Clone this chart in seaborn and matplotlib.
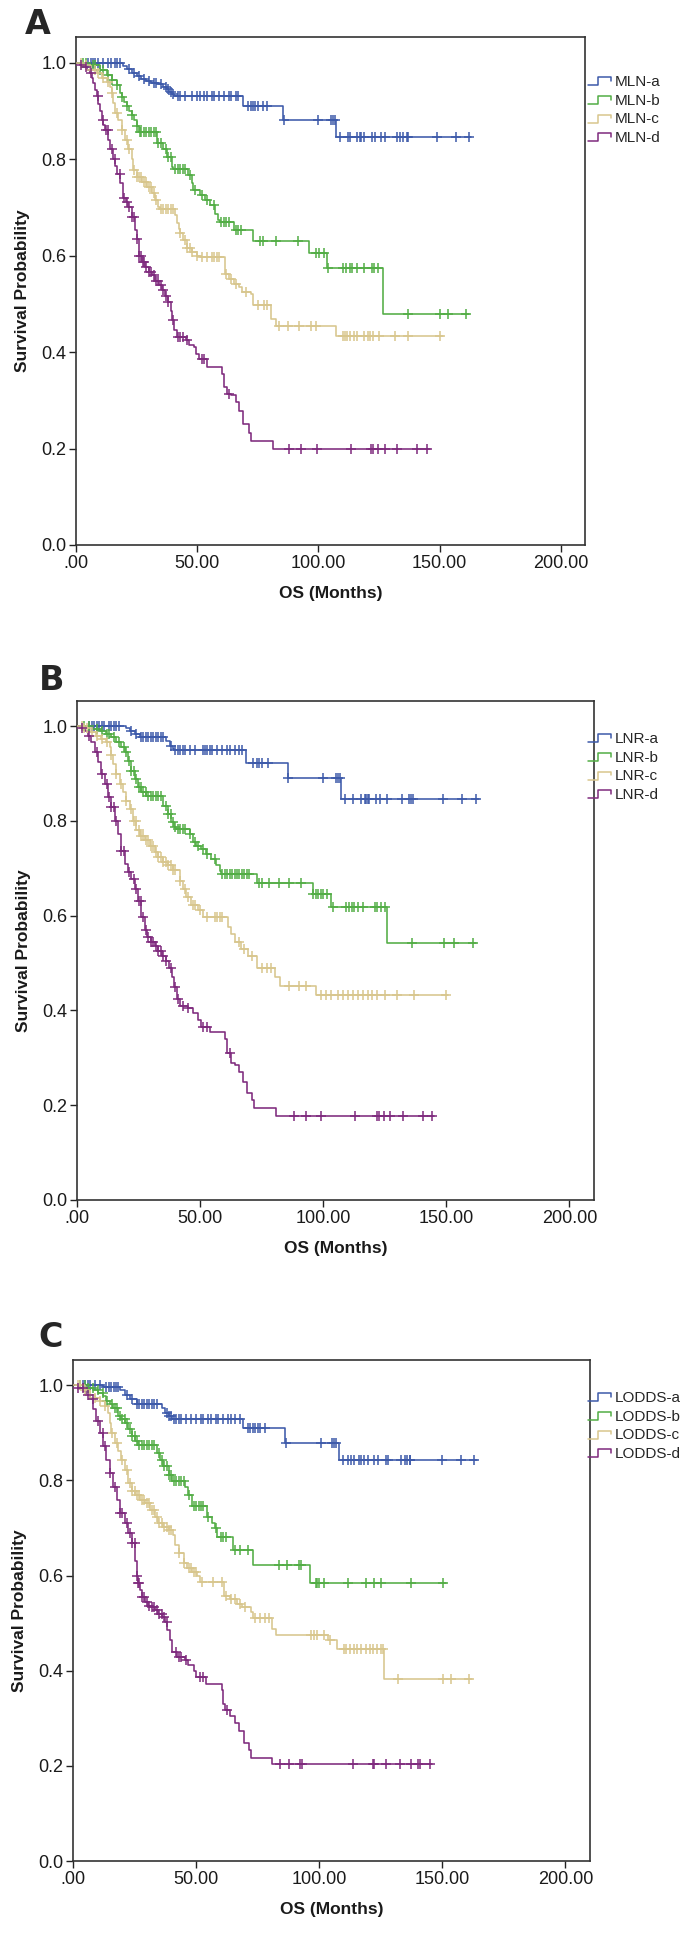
import numpy as np
import pandas as pd
import matplotlib
matplotlib.use("Agg")
import matplotlib.pyplot as plt
import seaborn as sns
from matplotlib.legend_handler import HandlerBase
from matplotlib.lines import Line2D

# ---------------- data (months, survival probability) ----------------
MLN_names = ["MLN-a", "MLN-b", "MLN-c", "MLN-d"]
LNR_names = ["LNR-a", "LNR-b", "LNR-c", "LNR-d"]
LODDS_names = ["LODDS-a", "LODDS-b", "LODDS-c", "LODDS-d"]

x_ticks = [0, 50, 100, 150, 200]
x_tick_labels = [".00", "50.00", "100.00", "150.00", "200.00"]
y_ticks = [0.0, 0.2, 0.4, 0.6, 0.8, 1.0]
y_tick_labels = ["0.0", "0.2", "0.4", "0.6", "0.8", "1.0"]

# --- Panel A: MLN ---
MLN_a_t = [19.5, 21, 23, 25, 27, 29, 31, 34, 36, 37.5, 38.5, 39.5, 40.5, 68.8, 85.6, 107.3]
MLN_a_s = [0.993, 0.986, 0.979, 0.972, 0.966, 0.962, 0.958, 0.955, 0.950, 0.945, 0.940, 0.935, 0.931, 0.910, 0.881, 0.845]
MLN_a_end = 163
MLN_a_cens = [5, 6, 7, 8, 9, 11, 13, 14.5, 16, 17, 18, 22, 24, 26, 28, 30, 32, 33, 35, 37, 38, 39, 40, 42, 43, 45, 48, 50, 51, 53, 54, 56, 57, 59, 61, 63, 64, 66, 67, 71, 72, 73, 74, 75, 77, 79, 86, 100, 105, 106, 107, 109, 112.4, 113, 116, 117, 117.7, 119, 122, 123.4, 126, 127.5, 132.4, 133.7, 135, 136.5, 137, 149, 156.7, 162.3]

MLN_b_t = [5.8, 9.9, 12.7, 14.7, 16.8, 18, 19, 20, 21, 22, 23, 24, 25, 26, 33.3, 36, 37.4, 39.5, 40.2, 46.4, 47.7, 48.4, 51.2, 53.2, 55.3, 57.4, 58.7, 59.4, 65, 73.2, 96.3, 103.6, 126.7]
MLN_b_s = [0.995, 0.985, 0.974, 0.964, 0.954, 0.936, 0.928, 0.919, 0.91, 0.90, 0.891, 0.88, 0.868, 0.857, 0.833, 0.82, 0.805, 0.784, 0.78, 0.767, 0.75, 0.736, 0.725, 0.715, 0.705, 0.687, 0.674, 0.67, 0.653, 0.631, 0.605, 0.574, 0.479]
MLN_b_end = 162
MLN_b_cens = [3, 4, 7, 8, 10, 11, 13, 15, 17, 19, 21, 23, 25, 26.5, 27, 28, 29, 30, 31, 32, 33, 34, 35, 37, 38, 39, 41, 42, 43, 44, 45, 47, 49, 52, 54, 57, 60, 61, 62, 63, 66, 67, 68, 76, 77, 82.5, 91.4, 99, 100.4, 102.5, 104, 110, 111.5, 113, 114, 116, 119, 122, 123, 124.6, 137, 150, 153.6, 161]

MLN_c_t = [3, 5.8, 8.5, 10.6, 12.7, 14, 14.7, 15.4, 16.1, 17.5, 18.8, 20.2, 21.6, 23, 23.7, 25, 27.1, 29.2, 31.2, 32.6, 34, 34.7, 41, 41.7, 42.3, 42.9, 44.3, 45.7, 47.7, 49.8, 51.2, 61.3, 63.1, 65.2, 67.3, 68.6, 72.1, 73.2, 80.4, 82.5, 107.3]
MLN_c_s = [0.995, 0.985, 0.978, 0.967, 0.96, 0.95, 0.936, 0.916, 0.895, 0.881, 0.86, 0.84, 0.82, 0.80, 0.777, 0.763, 0.753, 0.743, 0.729, 0.715, 0.70, 0.696, 0.683, 0.668, 0.655, 0.646, 0.632, 0.615, 0.608, 0.60, 0.596, 0.562, 0.552, 0.541, 0.534, 0.524, 0.52, 0.497, 0.469, 0.453, 0.434]
MLN_c_end = 151.5
MLN_c_cens = [2, 4, 6, 8, 9, 11, 13, 15, 17, 19, 21, 22, 24, 25, 26, 27, 28, 29, 30, 31, 32, 33, 35, 36, 37, 38, 39, 40, 43, 45, 46, 47, 48, 50, 52, 54, 56, 57, 58, 59, 62, 64, 66, 70, 75, 77.6, 79, 83.8, 87.3, 92, 97, 99, 110, 111, 112, 113, 114.6, 116, 119, 120.4, 121.5, 122.5, 125, 131.5, 137, 150]

MLN_d_t = [1.65, 3, 4.4, 5.8, 6.5, 7.2, 7.9, 8.5, 9.2, 9.9, 10.6, 11.3, 12, 13.3, 14, 15.4, 16.1, 16.8, 18.2, 19.5, 20.5, 21.6, 23, 24.3, 25, 25.8, 27.2, 28.6, 30, 31.4, 32.7, 34.1, 35.5, 36.9, 37.8, 39, 39.6, 40.3, 41.7, 45.2, 46.5, 48.6, 49.7, 50.7, 54.1, 60.4, 61, 62.2, 63.8, 65.9, 67.3, 69.1, 71.4, 72.1, 81.1]
MLN_d_s = [0.995, 0.99, 0.985, 0.978, 0.967, 0.957, 0.943, 0.93, 0.915, 0.90, 0.88, 0.87, 0.86, 0.84, 0.82, 0.80, 0.785, 0.77, 0.75, 0.72, 0.71, 0.70, 0.68, 0.653, 0.635, 0.60, 0.586, 0.576, 0.566, 0.559, 0.548, 0.538, 0.528, 0.517, 0.503, 0.486, 0.466, 0.445, 0.431, 0.424, 0.414, 0.41, 0.396, 0.386, 0.369, 0.355, 0.327, 0.314, 0.31, 0.296, 0.277, 0.25, 0.233, 0.215, 0.2]
MLN_d_end = 146
MLN_d_cens = [2, 4, 6, 9, 11, 12.5, 13, 15, 16, 18, 20, 21, 22, 23, 24, 25, 26, 27, 27.5, 28, 29, 30, 31, 32, 33, 34, 35, 36, 37, 38, 40, 42, 43, 44, 46, 52, 53, 63, 88, 93, 99.4, 113.5, 121.8, 122.5, 124.6, 127.3, 132.6, 140.5, 145]

# --- Panel B: LNR ---
LNR_a_t = [20, 21.4, 23.4, 25.4, 36.3, 37.6, 39, 39.6, 68.7, 85.7, 107.3]
LNR_a_s = [0.996, 0.99, 0.983, 0.978, 0.969, 0.959, 0.952, 0.949, 0.922, 0.89, 0.846]
LNR_a_end = 163.2
LNR_a_cens = [5, 6, 7, 8, 9, 10, 11, 13, 14, 15, 16, 17, 22, 24, 26, 27, 28, 29, 30, 31, 32, 33, 34, 35, 38, 40, 41, 42, 43, 44, 46, 48, 51, 52, 53, 54, 55, 57, 59, 61, 62, 64, 66, 67, 71.4, 73, 74, 75, 77.5, 85.7, 100, 105, 106, 107, 109, 112, 115.4, 116.8, 117.5, 118.1, 118.8, 121.5, 122.9, 125.8, 132, 135, 135.7, 136.4, 148.6, 156.4, 161.9]

LNR_b_t = [6.5, 9.2, 11.9, 13.9, 16, 18, 19.4, 20.7, 22, 23.4, 24.8, 26.1, 28.1, 34.9, 36.9, 38.3, 39.6, 40.3, 45.7, 47.1, 48.4, 50.5, 52.5, 54.5, 56.6, 57.9, 58.6, 73.1, 95.8, 103.2, 125.8]
LNR_b_s = [0.994, 0.99, 0.983, 0.976, 0.966, 0.955, 0.945, 0.927, 0.906, 0.888, 0.871, 0.86, 0.853, 0.832, 0.815, 0.797, 0.787, 0.783, 0.773, 0.755, 0.748, 0.741, 0.731, 0.72, 0.706, 0.695, 0.688, 0.669, 0.645, 0.618, 0.543]
LNR_b_end = 162
LNR_b_cens = [3, 5, 8, 10, 12, 13, 15, 17, 19, 20, 21, 22, 23, 24, 25, 26, 27, 28, 29, 30, 31, 32, 33, 34, 36, 37, 38, 39, 40, 41, 42, 43, 44, 46, 48, 49, 51, 53, 56, 59, 60, 61, 62, 63, 64, 65, 66, 67, 68, 69, 70, 74, 75, 78, 82, 86, 91, 96, 97, 98, 99, 100, 101.4, 103.9, 109.3, 110.5, 111.7, 112.5, 114, 116, 121, 122, 123.5, 125, 136, 149, 153, 161]

LNR_c_t = [2.4, 5.1, 7.8, 9.9, 11.9, 13.3, 13.9, 14.6, 16, 17.3, 18.7, 20, 21.4, 22.7, 24.1, 25.4, 27.5, 29.5, 31.5, 32.9, 34.9, 36.9, 39, 41.7, 43, 44.4, 46.4, 49.1, 51.2, 61.3, 62.7, 64, 66.5, 69.5, 73, 80.5, 82.5, 97]
LNR_c_s = [0.996, 0.987, 0.98, 0.973, 0.966, 0.955, 0.938, 0.92, 0.899, 0.878, 0.86, 0.843, 0.825, 0.80, 0.78, 0.769, 0.759, 0.748, 0.734, 0.724, 0.713, 0.706, 0.697, 0.674, 0.657, 0.639, 0.622, 0.611, 0.597, 0.576, 0.562, 0.545, 0.53, 0.515, 0.49, 0.47, 0.452, 0.432]
LNR_c_end = 150.5
LNR_c_cens = [2, 3, 4, 6, 8, 10, 12, 14, 16, 18, 20, 22, 23, 24, 25, 26, 27, 28, 29, 30, 31, 32, 33, 34, 35, 36, 37, 38, 39, 40, 42, 44, 45, 47, 48, 50, 53, 56, 57, 58, 59, 66, 68, 71, 75, 77, 79, 86, 90, 93, 99, 101, 103, 106, 108, 110, 112, 114, 116, 118, 120, 122, 125, 130, 137, 150]

LNR_d_t = [1.1, 3.1, 4.5, 5.8, 7.2, 8.5, 9.9, 11.2, 12.6, 13.9, 15.3, 16.6, 18, 19.4, 20.7, 22.1, 23.4, 24.8, 26.1, 27.5, 28.5, 30, 31.5, 33, 34.5, 36, 37.5, 38.5, 39.5, 40.5, 42, 45, 47, 49, 50.5, 54, 60, 61, 62.5, 64, 66, 67.5, 69, 71, 72, 81]
LNR_d_s = [0.996, 0.99, 0.98, 0.966, 0.945, 0.924, 0.899, 0.878, 0.85, 0.829, 0.80, 0.773, 0.737, 0.709, 0.692, 0.678, 0.657, 0.632, 0.597, 0.569, 0.555, 0.545, 0.535, 0.525, 0.515, 0.505, 0.49, 0.47, 0.45, 0.425, 0.41, 0.405, 0.395, 0.38, 0.365, 0.355, 0.34, 0.31, 0.29, 0.285, 0.27, 0.25, 0.225, 0.21, 0.195, 0.178]
LNR_d_end = 145
LNR_d_cens = [2, 5, 8, 10, 12, 13, 14, 15, 16, 18, 19, 21, 23, 24, 25, 26, 27, 28, 29, 30, 31, 32, 33, 34, 35, 36, 38, 40, 41, 43, 45, 51, 53, 62, 88, 93, 99, 113, 121.8, 122.5, 124.6, 127.3, 132.6, 140.5, 144]

# --- Panel C: LODDS ---
LODDS_a_t = [12, 19, 21, 23.1, 25.9, 36, 37.4, 38.8, 40.1, 69.1, 86.1, 107.9]
LODDS_a_s = [0.996, 0.99, 0.98, 0.97, 0.961, 0.952, 0.942, 0.935, 0.929, 0.91, 0.879, 0.842]
LODDS_a_end = 164
LODDS_a_cens = [4, 5, 6, 7, 9, 11, 13.6, 14.5, 15.5, 16.5, 17.5, 18.4, 22, 24, 26, 27, 28, 29, 30, 31, 32, 33, 34, 38, 39, 40, 41, 42, 43, 44, 46, 48, 50, 52, 53, 55, 56, 58, 59, 61, 63, 64, 66, 68, 71, 72, 73, 74, 75, 76, 78, 86.4, 100.7, 105.4, 106, 106.8, 109.5, 111.6, 113, 114.3, 116.3, 117, 118.4, 119.7, 122.4, 123.8, 127.2, 128, 133.3, 134.7, 135.8, 136.7, 137, 149.7, 157.6, 163]

LODDS_b_t = [5.4, 8.2, 10.2, 12.2, 13.6, 15, 16.3, 18.4, 19.7, 21.1, 22.4, 23.8, 25.2, 26.5, 34, 35.4, 36.7, 38.8, 40.1, 45.6, 46.9, 48.3, 54.4, 56.5, 57.8, 58.5, 65, 73.2, 96.3]
LODDS_b_s = [0.994, 0.99, 0.984, 0.977, 0.966, 0.96, 0.952, 0.935, 0.928, 0.921, 0.907, 0.893, 0.882, 0.875, 0.858, 0.843, 0.83, 0.812, 0.798, 0.787, 0.77, 0.747, 0.724, 0.71, 0.70, 0.68, 0.654, 0.622, 0.584]
LODDS_b_end = 151.7
LODDS_b_cens = [3, 5, 6, 8, 10, 12, 14, 16, 17, 18, 19, 20, 21, 22, 23, 24, 25, 26, 27, 28, 29, 30, 31, 32, 33, 35, 36, 37, 38, 39, 40, 41, 42, 43, 44, 45, 47, 49, 50, 51, 52, 53, 55, 58, 60, 61, 62, 66, 68, 71, 83.7, 87, 91.8, 92.5, 98.6, 99.3, 100, 102, 111.6, 119, 122.4, 125.2, 137.4, 150.3]

LODDS_c_t = [4.1, 6.8, 8.8, 10.9, 12.9, 14.3, 15, 15.6, 17, 18.4, 19.7, 21.1, 22.4, 23.8, 25.2, 27.2, 29.3, 31.3, 33.3, 34.7, 36.7, 38.8, 40.8, 41.5, 42.9, 44.9, 46.3, 48.3, 50.3, 51.7, 61.2, 63.9, 66.7, 68.7, 72.1, 73.2, 81, 82.3, 103.4, 107.2, 126.5]
LODDS_c_s = [0.99, 0.98, 0.973, 0.966, 0.956, 0.942, 0.92, 0.90, 0.879, 0.861, 0.843, 0.822, 0.794, 0.777, 0.77, 0.759, 0.752, 0.738, 0.724, 0.71, 0.703, 0.696, 0.686, 0.665, 0.647, 0.626, 0.615, 0.608, 0.598, 0.587, 0.558, 0.551, 0.541, 0.534, 0.523, 0.511, 0.488, 0.476, 0.464, 0.446, 0.383]
LODDS_c_end = 161.9
LODDS_c_cens = [2, 3, 5, 7, 9, 11, 13, 16, 18, 20, 22, 23, 24, 25, 26, 27, 28, 29, 30, 31, 32, 33, 34, 35, 36, 37, 38, 39, 40, 43, 45, 47, 48, 49, 50, 52.4, 57, 60.5, 62, 64, 66, 68, 70, 74, 76, 78, 79.5, 96.6, 98, 99.3, 102, 104.5, 110, 111, 112.5, 114, 115.5, 117, 119, 120.5, 122, 123.5, 125, 125.9, 132, 150.3, 153.7, 161]

LODDS_d_t = [2, 4.1, 5.4, 6.8, 8.2, 9.5, 10.9, 12.2, 13.6, 15, 16.3, 17.7, 19, 21.1, 22.4, 23.8, 25.2, 25.9, 26.5, 27.2, 27.9, 29.3, 30.6, 32, 33.3, 34.7, 36.1, 37.4, 38.1, 39.2, 40.1, 42.2, 45.6, 46.9, 49, 50.1, 54.1, 60.5, 61, 61.9, 63.9, 66, 67.3, 69.4, 71.4, 72.1, 81]
LODDS_d_s = [0.994, 0.987, 0.98, 0.97, 0.949, 0.924, 0.90, 0.872, 0.843, 0.815, 0.787, 0.759, 0.731, 0.71, 0.689, 0.668, 0.63, 0.60, 0.585, 0.57, 0.555, 0.544, 0.537, 0.534, 0.527, 0.52, 0.513, 0.502, 0.485, 0.464, 0.44, 0.429, 0.422, 0.411, 0.40, 0.387, 0.373, 0.359, 0.331, 0.317, 0.304, 0.289, 0.274, 0.247, 0.233, 0.217, 0.203]
LODDS_d_end = 146
LODDS_d_cens = [2, 4, 6, 8, 10, 12, 13, 15, 17, 19, 20, 22, 23, 24, 25, 26, 26.5, 27, 28, 29, 30, 31, 32, 33, 34, 35, 36, 37, 38, 42, 43, 44, 46, 51.5, 53, 62.5, 84, 87.8, 92.2, 93.2, 113.6, 121.8, 122.4, 127.2, 132.7, 137.4, 140.1, 140.8, 144.9]

# ---------------- style ----------------
sns.set_theme(style="ticks")
plt.rcParams["font.family"] = ["Liberation Sans", "DejaVu Sans"]

COLORS = ["#3D5AAA", "#52AD45", "#D8C68D", "#7E2A7D"]
W, H = 698, 1934
fig = plt.figure(figsize=(W / 100, H / 100), dpi=100)


class StepHandler(HandlerBase):
    def create_artists(self, legend, orig_handle, xdescent, ydescent,
                       width, height, fontsize, trans):
        x0, y0 = -xdescent, -ydescent
        xs = [x0, x0 + 0.45 * width, x0 + 0.45 * width, x0 + width, x0 + width]
        ys = [y0 + 0.05 * height, y0 + 0.05 * height, y0 + 0.8 * height,
              y0 + 0.8 * height, y0 + 0.45 * height]
        return [Line2D(xs, ys, color=orig_handle.get_color(), lw=1.1,
                       transform=trans)]


def draw_panel(rect, letter, letter_xy, names, series, legend_top):
    l, t, r, b = rect
    ax = fig.add_axes([l / W, 1 - b / H, (r - l) / W, (b - t) / H])
    handles = []
    for name, color, (tt, ss, end, cens) in zip(names, COLORS, series):
        x = np.r_[0.0, tt, end]
        y = np.r_[1.0, ss, ss[-1]]
        df = pd.DataFrame({"t": x, "s": y})
        sns.lineplot(data=df, x="t", y="s", ax=ax, color=color, lw=1.15,
                     drawstyle="steps-post", estimator=None, sort=False)
        ce = np.asarray(cens, dtype=float)
        cy = y[np.searchsorted(x, ce, side="right") - 1]
        sns.scatterplot(x=ce, y=cy, ax=ax, marker="+", s=48, color=color,
                        linewidth=1.1, legend=False, zorder=3)
        handles.append(Line2D([], [], color=color))
    ax.set_xlim(0, 210)
    ax.set_ylim(0, 1.053)
    ax.set_xticks(x_ticks)
    ax.set_xticklabels(x_tick_labels)
    ax.set_yticks(y_ticks)
    ax.set_yticklabels(y_tick_labels)
    ax.tick_params(direction="out", length=5, width=1.0, color="#222222",
                   labelsize=13, labelcolor="#1a1a1a", pad=2)
    for sp in ax.spines.values():
        sp.set_visible(True)
        sp.set_color("#333333")
        sp.set_linewidth(1.2)
    ax.set_xlabel("OS (Months)", fontsize=12.5, fontweight="bold",
                  labelpad=10, color="#1a1a1a")
    ax.set_ylabel("Survival Probability", fontsize=12.5, fontweight="bold",
                  labelpad=8, color="#1a1a1a")
    fig.text(letter_xy[0] / W, 1 - letter_xy[1] / H, letter, fontsize=24,
             fontweight="heavy", family="DejaVu Sans", va="top", ha="left")
    fig.legend(handles, names, loc="upper left",
               bbox_to_anchor=(588 / W, 1 - legend_top / H),
               frameon=False, fontsize=11, handler_map={Line2D: StepHandler()},
               handlelength=1.5, handleheight=0.7, handletextpad=0.25,
               labelspacing=0.3, borderpad=0, borderaxespad=0)
    return ax


draw_panel((76, 37, 585, 545), "A", (25, 8), MLN_names,
           [(MLN_a_t, MLN_a_s, MLN_a_end, MLN_a_cens),
            (MLN_b_t, MLN_b_s, MLN_b_end, MLN_b_cens),
            (MLN_c_t, MLN_c_s, MLN_c_end, MLN_c_cens),
            (MLN_d_t, MLN_d_s, MLN_d_end, MLN_d_cens)], 75)
draw_panel((77, 701, 594, 1200), "B", (39, 664), LNR_names,
           [(LNR_a_t, LNR_a_s, LNR_a_end, LNR_a_cens),
            (LNR_b_t, LNR_b_s, LNR_b_end, LNR_b_cens),
            (LNR_c_t, LNR_c_s, LNR_c_end, LNR_c_cens),
            (LNR_d_t, LNR_d_s, LNR_d_end, LNR_d_cens)], 732)
draw_panel((73, 1360, 590, 1861), "C", (38, 1321), LODDS_names,
           [(LODDS_a_t, LODDS_a_s, LODDS_a_end, LODDS_a_cens),
            (LODDS_b_t, LODDS_b_s, LODDS_b_end, LODDS_b_cens),
            (LODDS_c_t, LODDS_c_s, LODDS_c_end, LODDS_c_cens),
            (LODDS_d_t, LODDS_d_s, LODDS_d_end, LODDS_d_cens)], 1391)

fig.savefig("out.png", dpi=100)
